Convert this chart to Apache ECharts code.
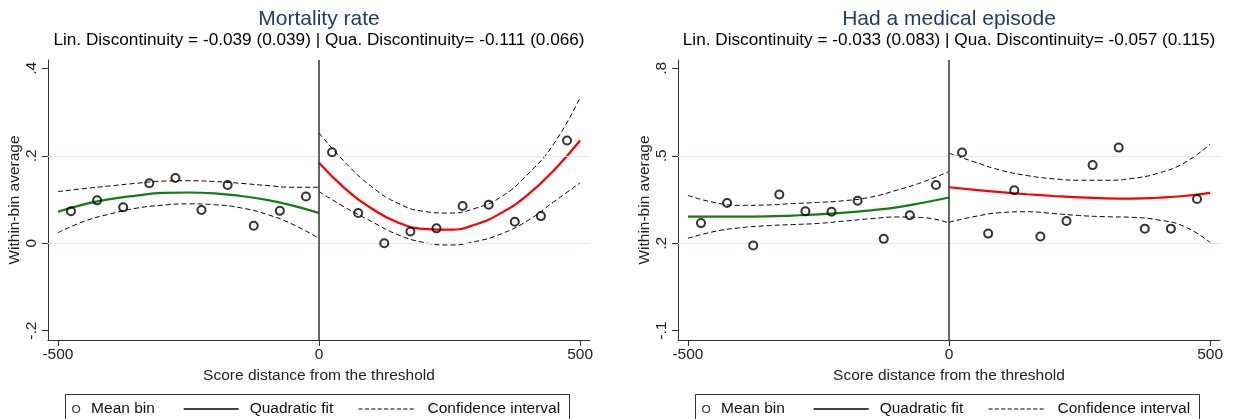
<!DOCTYPE html>
<html>
<head>
<meta charset="utf-8">
<script src="https://cdn.jsdelivr.net/npm/echarts@6/dist/echarts.min.js"></script>
<style>html,body{margin:0;padding:0;background:#fff;}#c{width:1233px;height:419px;}</style>
</head>
<body>
<div id="c"></div>
<script>
// ---- data ----
const binXLeft  = [-475,-425,-375,-325,-275,-225,-175,-125,-75,-25];
const binXRight = [25,75,125,175,225,275,325,375,425,475];
const fitXLeft  = [-500,-450,-400,-350,-300,-250,-200,-150,-100,-50,0];
const fitXRight = [0,50,100,150,200,250,300,350,400,450,500];

const xTicks = [-500,0,500];
const mortYTicks = [-0.2,0,0.2,0.4];
const medYTicks  = [-0.1,0.2,0.5,0.8];
const mortGridY = [0.2,0];
const medGridY  = [0.5,0.2];

// Mortality rate
const mortBinL = [0.073,0.098,0.082,0.137,0.149,0.076,0.133,0.040,0.074,0.107];
const mortBinR = [0.208,0.069,0.000,0.027,0.034,0.085,0.088,0.049,0.062,0.235];
const mortFitL = [0.072,0.089,0.101,0.109,0.115,0.116,0.114,0.108,0.099,0.086,0.069];
const mortHiL  = [0.118,0.125,0.131,0.137,0.142,0.143,0.141,0.137,0.132,0.128,0.128];
const mortLoL  = [0.024,0.050,0.067,0.080,0.087,0.090,0.088,0.081,0.066,0.043,0.011];
const mortFitR = [0.184,0.125,0.080,0.048,0.033,0.031,0.043,0.070,0.111,0.167,0.235];
const mortHiR  = [0.252,0.185,0.130,0.092,0.073,0.069,0.080,0.107,0.158,0.228,0.333];
const mortLoR  = [0.118,0.082,0.050,0.020,0.002,-0.004,0.004,0.022,0.052,0.095,0.138];

// Had a medical episode
const medBinL = [0.269,0.338,0.192,0.367,0.310,0.308,0.346,0.215,0.296,0.400];
const medBinR = [0.511,0.233,0.382,0.223,0.276,0.468,0.528,0.250,0.250,0.352];
const medFitL = [0.291,0.291,0.291,0.292,0.295,0.299,0.305,0.313,0.323,0.339,0.357];
const medHiL  = [0.364,0.340,0.330,0.331,0.336,0.340,0.346,0.358,0.382,0.410,0.446];
const medLoL  = [0.217,0.240,0.253,0.260,0.264,0.268,0.276,0.284,0.290,0.288,0.269];
const medFitR = [0.392,0.383,0.375,0.368,0.362,0.357,0.354,0.353,0.356,0.362,0.373];
const medHiR  = [0.509,0.478,0.450,0.432,0.421,0.416,0.416,0.422,0.440,0.475,0.540];
const medLoR  = [0.272,0.292,0.305,0.308,0.302,0.295,0.291,0.289,0.280,0.258,0.203];

// ---- chart ----
const FONT = 'Liberation Sans, Arial, sans-serif';
const zip = (xs, ys) => xs.map((x, i) => [x, ys[i]]);
const fmt = v => { const s = String(+(+v).toFixed(3)); return s.replace(/^(-?)0\./, '$1.'); };

const GREEN = '#127d12', RED = '#ff0000';
const DASH = [5, 3];

function panelSeries(k, binL, binR, fitL, hiL, loL, fitR, hiR, loR, gridY) {
  const ax = { xAxisIndex: k, yAxisIndex: k, animation: false, silent: true };
  const ci = (name, xs, ys) => Object.assign({
    name, type: 'line', data: zip(xs, ys), symbol: 'none', smooth: true, z: 3,
    lineStyle: { color: '#000', width: 1, type: DASH }
  }, ax);
  const fit = (name, xs, ys, color) => Object.assign({
    name, type: 'line', data: zip(xs, ys), symbol: 'none', smooth: true, z: 4,
    lineStyle: { color, width: 2.2 }
  }, ax);
  const pts = (name, xs, ys) => Object.assign({
    name, type: 'scatter', data: zip(xs, ys), symbol: 'circle', symbolSize: 8, z: 5,
    itemStyle: { color: 'transparent', borderColor: '#000', borderWidth: 2 }
  }, ax);
  const lo = ci('loL' + k, fitXLeft, loL);
  lo.markLine = {
    silent: true, symbol: 'none', animation: false, label: { show: false },
    data: gridY.map(v => ({ yAxis: v, lineStyle: { color: '#e2ecec', width: 1, type: 'solid' } }))
      .concat([{ xAxis: 0, lineStyle: { color: '#333', width: 1.5, type: 'solid' } }])
  };
  return [
    lo, ci('hiL' + k, fitXLeft, hiL), ci('loR' + k, fitXRight, loR), ci('hiR' + k, fitXRight, hiR),
    fit('fitL' + k, fitXLeft, fitL, GREEN), fit('fitR' + k, fitXRight, fitR, RED),
    pts('binL' + k, binXLeft, binL), pts('binR' + k, binXRight, binR)
  ];
}

function xAxis(k) {
  return {
    type: 'value', gridIndex: k, min: -519, max: 519,
    axisLine: { show: true, onZero: false, lineStyle: { color: '#333', width: 1 } },
    axisTick: { show: true, length: 6, customValues: xTicks, lineStyle: { color: '#333' } },
    axisLabel: { customValues: xTicks, fontSize: 15.5, color: '#222', fontFamily: FONT, margin: 7 },
    splitLine: { show: false },
    name: 'Score distance from the threshold', nameLocation: 'middle', nameGap: 26,
    nameTextStyle: { fontSize: 15.5, color: '#222', fontFamily: FONT }
  };
}
function yAxis(k, min, max, ticks) {
  return {
    type: 'value', gridIndex: k, min, max,
    axisLine: { show: true, onZero: false, lineStyle: { color: '#333', width: 1 } },
    axisTick: { show: true, length: 6, customValues: ticks, lineStyle: { color: '#333' } },
    axisLabel: { customValues: ticks, rotate: 90, formatter: fmt, fontSize: 15.5, color: '#222', fontFamily: FONT, margin: 8 },
    splitLine: { show: false },
    name: 'Within-bin average', nameLocation: 'middle', nameGap: 25, nameRotate: 90,
    nameTextStyle: { fontSize: 15.5, color: '#222', fontFamily: FONT }
  };
}

function legends(off) {
  const txt = pad => ({ fontSize: 15.5, color: '#111', fontFamily: FONT, padding: [0, 0, 0, pad] });
  return [
    { data: ['Mean bin'], left: 72 + off, top: 401, padding: 0, itemWidth: 20, itemHeight: 7, selectedMode: false,
      itemStyle: { color: 'transparent', borderColor: '#000', borderWidth: 1.2 }, textStyle: txt(0) },
    { data: ['Quadratic fit'], left: 183 + off, top: 401, padding: 0, itemWidth: 55, itemHeight: 14, selectedMode: false,
      itemStyle: { opacity: 0, color: 'transparent', borderWidth: 0 },
      lineStyle: { color: '#000', width: 1.3 }, textStyle: txt(6) },
    { data: ['Confidence interval'], left: 358 + off, top: 401, padding: 0, itemWidth: 57, itemHeight: 14, selectedMode: false,
      itemStyle: { opacity: 0, color: 'transparent', borderWidth: 0 },
      lineStyle: { color: '#000', width: 1, type: [4, 2.4] }, textStyle: txt(7) }
  ];
}

const legendSeries = [
  { name: 'Mean bin', type: 'scatter', data: [], symbol: 'circle', xAxisIndex: 0, yAxisIndex: 0,
    itemStyle: { color: 'transparent', borderColor: '#000', borderWidth: 1.2 } },
  { name: 'Quadratic fit', type: 'line', data: [], symbol: 'none', showSymbol: false, xAxisIndex: 0, yAxisIndex: 0,
    itemStyle: { color: 'transparent' }, lineStyle: { color: '#000', width: 1.3 } },
  { name: 'Confidence interval', type: 'line', data: [], symbol: 'none', showSymbol: false, xAxisIndex: 0, yAxisIndex: 0,
    itemStyle: { color: 'transparent' }, lineStyle: { color: '#000', width: 1, type: [4, 2.4] } }
];

function titleText(x, y, text, size, color) {
  return { type: 'text', x, y, silent: true,
    style: { text, fontSize: size, fontFamily: FONT, fill: color, align: 'center', verticalAlign: 'middle' } };
}

const option = {
  animation: false,
  backgroundColor: '#fff',
  grid: [
    { left: 48, top: 60, width: 542, height: 280 },
    { left: 678, top: 60, width: 542, height: 280 }
  ],
  xAxis: [xAxis(0), xAxis(1)],
  yAxis: [yAxis(0, -0.2213, 0.419, mortYTicks), yAxis(1, -0.1319, 0.8285, medYTicks)],
  legend: legends(0).concat(legends(630)),
  graphic: [
    titleText(319, 19.5, 'Mortality rate', 21, '#1e3d64'),
    titleText(319, 40, 'Lin. Discontinuity = -0.039 (0.039) | Qua. Discontinuity= -0.111 (0.066)', 17.2, '#000'),
    titleText(949, 19.5, 'Had a medical episode', 21, '#1e3d64'),
    titleText(949, 40, 'Lin. Discontinuity = -0.033 (0.083) | Qua. Discontinuity= -0.057 (0.115)', 17.2, '#000'),
    { type: 'rect', silent: true, shape: { x: 65.5, y: 394.5, width: 504, height: 40 }, style: { fill: 'none', stroke: '#333', lineWidth: 1 } },
    { type: 'rect', silent: true, shape: { x: 695.5, y: 394.5, width: 504, height: 40 }, style: { fill: 'none', stroke: '#333', lineWidth: 1 } }
  ],
  series: legendSeries
    .concat(panelSeries(0, mortBinL, mortBinR, mortFitL, mortHiL, mortLoL, mortFitR, mortHiR, mortLoR, mortGridY))
    .concat(panelSeries(1, medBinL, medBinR, medFitL, medHiL, medLoL, medFitR, medHiR, medLoR, medGridY))
};

const chart = echarts.init(document.getElementById('c'), null, { renderer: 'canvas' });
chart.setOption(option);
</script>
</body>
</html>
